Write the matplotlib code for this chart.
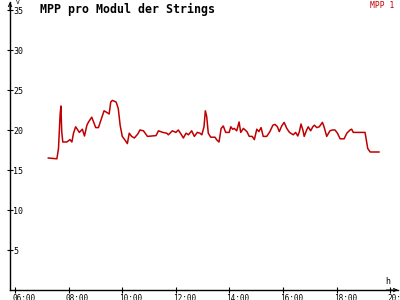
import matplotlib
matplotlib.use("Agg")
import matplotlib.pyplot as plt
from matplotlib.transforms import ScaledTranslation

# time of day in hours, MPP voltage per module (V)
hours = [
    7.24, 7.56, 7.62, 7.68, 7.71, 7.74, 7.78, 7.93, 8.05, 8.12, 8.18, 8.26,
    8.40, 8.51, 8.59, 8.68, 8.74, 8.86, 9.01, 9.11, 9.17, 9.32, 9.42, 9.51,
    9.57, 9.63, 9.77, 9.85, 9.92, 10.00, 10.10, 10.19, 10.26, 10.35, 10.45,
    10.58, 10.66, 10.79, 10.94, 11.26, 11.35, 11.51, 11.66, 11.72, 11.87,
    12.00, 12.09, 12.19, 12.28, 12.38, 12.47, 12.59, 12.69, 12.80, 12.90,
    12.97, 13.05, 13.10, 13.15, 13.21, 13.30, 13.46, 13.53, 13.61, 13.69,
    13.77, 13.86, 13.99, 14.05, 14.12, 14.18, 14.27, 14.36, 14.42, 14.52,
    14.65, 14.74, 14.85, 14.93, 15.02, 15.10, 15.18, 15.26, 15.39, 15.51,
    15.62, 15.70, 15.79, 15.86, 15.95, 16.04, 16.14, 16.24, 16.38, 16.47,
    16.55, 16.61, 16.67, 16.74, 16.79, 16.88, 16.94, 17.03, 17.11, 17.17,
    17.26, 17.35, 17.47, 17.53, 17.63, 17.75, 17.84, 17.94, 18.03, 18.13,
    18.28, 18.38, 18.50, 18.56, 18.62, 19.06, 19.12, 19.16, 19.25, 19.58,
]
mpp = [
    16.5, 16.4, 17.7, 21.9, 23.0, 19.8, 18.5, 18.5, 18.8, 18.5, 19.6, 20.4,
    19.7, 20.1, 19.25, 20.6, 21.0, 21.6, 20.3, 20.3, 20.9, 22.4, 22.2, 22.0,
    23.5, 23.7, 23.5, 22.7, 20.6, 19.2, 18.75, 18.3, 19.6, 19.2, 19.0,
    19.5, 20.0, 19.9, 19.2, 19.3, 19.9, 19.7, 19.6, 19.4, 19.9,
    19.7, 20.0, 19.5, 19.0, 19.6, 19.4, 19.9, 19.2, 19.7, 19.6,
    19.4, 20.4, 22.4, 21.7, 19.6, 19.1, 19.1, 18.75, 18.5, 20.2,
    20.5, 19.7, 19.7, 20.4, 20.1, 20.2, 19.9, 21.0, 19.7, 20.2,
    19.8, 19.2, 19.2, 18.8, 20.1, 19.8, 20.3, 19.2, 19.2, 19.8,
    20.6, 20.7, 20.4, 19.8, 20.5, 20.95, 20.2, 19.7, 19.4, 19.7,
    19.25, 19.8, 20.75, 20.0, 19.2, 20.0, 20.4, 19.9, 20.4, 20.6,
    20.3, 20.4, 20.95, 20.4, 19.2, 19.9, 20.0, 20.0, 19.6, 18.9,
    18.9, 19.6, 20.0, 20.1, 19.7, 19.7, 18.5, 17.7, 17.25, 17.25,
]
x_ticks = [6, 8, 10, 12, 14, 16, 18, 20]
x_labels = ["06:00", "08:00", "10:00", "12:00", "14:00", "16:00", "18:00", "20:00"]
y_ticks = [5, 10, 15, 20, 25, 30, 35]

red = "#c00000"
mono = "DejaVu Sans Mono"

fig = plt.figure(figsize=(4, 3), dpi=100)
ax = fig.add_axes([10 / 400, 10 / 300, 388 / 400, 288 / 300])

ax.plot(hours, mpp, color=red, lw=1.1)

ax.set_xlim(5.81, 20.29)
ax.set_ylim(0, 36)
for s in ["top", "right"]:
    ax.spines[s].set_visible(False)
for s in ["left", "bottom"]:
    ax.spines[s].set_linewidth(1.0)

ax.set_xticks(x_ticks)
ax.set_xticklabels(x_labels, fontsize=5.6, family=mono)
ax.set_yticks(y_ticks)
ax.set_yticklabels([str(v) for v in y_ticks], fontsize=6, family=mono)
ax.tick_params(direction="inout", length=4, width=0.8)
ax.tick_params(axis="y", pad=-4.3)
ax.tick_params(axis="x", pad=1)

shift = ScaledTranslation(-3 / 100, 0, fig.dpi_scale_trans)
for lab in ax.get_xticklabels():
    lab.set_ha("left")
    lab.set_transform(lab.get_transform() + shift)
for lab in ax.get_yticklabels():
    lab.set_ha("left")

# open arrow heads at the axis ends
arrow = dict(arrowstyle="->,head_length=0.25,head_width=0.12", lw=0.7,
             color="black", shrinkA=0, shrinkB=0)
ax.annotate("", xy=(0, 1.0), xytext=(0, 0.97), xycoords="axes fraction",
            arrowprops=arrow, annotation_clip=False)
ax.annotate("", xy=(1.0, 0), xytext=(0.97, 0), xycoords="axes fraction",
            arrowprops=arrow, annotation_clip=False)

fig.text(16 / 400, 1 - 3 / 300, "V", fontsize=4.5, family=mono, va="center")
fig.text(385 / 400, 1 - 281 / 300, "h", fontsize=6, family=mono, va="center")
fig.text(40 / 400, 1 - 9 / 300, "MPP pro Modul der Strings", fontsize=8.4,
         family=mono, weight="bold", va="center")
fig.text(394 / 400, 1 - 5 / 300, "MPP 1", fontsize=5.8, family=mono,
         color=red, ha="right", va="center")

fig.savefig("out.png", dpi=100)
